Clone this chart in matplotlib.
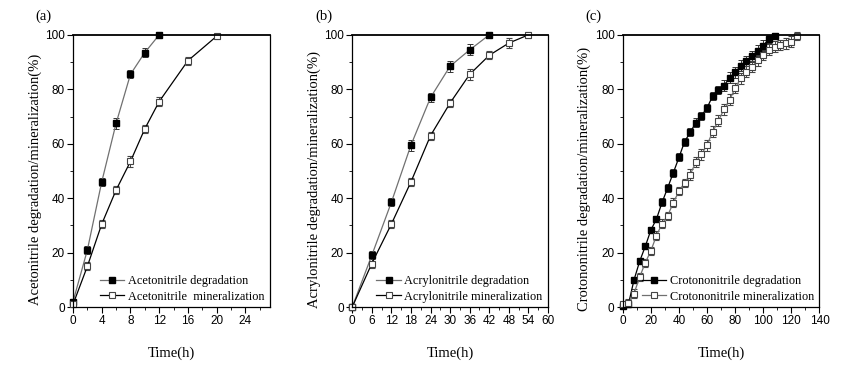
import numpy as np
import matplotlib
matplotlib.use("Agg")
import matplotlib.pyplot as plt
from matplotlib.ticker import MultipleLocator
from matplotlib.lines import Line2D

# panel (a) acetonitrile
t_a_deg = [0, 2, 4, 6, 8, 10, 12]
a_deg = [2, 21, 46, 67.5, 85.5, 93.5, 100]
a_deg_err = [1, 1.5, 1.5, 2, 1.5, 1.5, 1]
t_a_min = [0, 2, 4, 6, 8, 10, 12, 16, 20]
a_min = [1, 15, 30.5, 43, 53.5, 65.5, 75.5, 90.5, 99.5]
a_min_err = [1, 1.5, 1.5, 1.5, 2, 1.5, 1.5, 1.5, 1]

# panel (b) acrylonitrile
t_b_deg = [0, 6, 12, 18, 24, 30, 36, 42]
b_deg = [0, 19, 38.5, 59.5, 77, 88.5, 94.5, 100]
b_deg_err = [0.5, 1.5, 1.5, 2, 1.5, 2, 2, 1]
t_b_min = [0, 6, 12, 18, 24, 30, 36, 42, 48, 54]
b_min = [0, 16, 30.5, 46, 63, 75, 85.5, 92.5, 97, 100]
b_min_err = [0.5, 1.5, 1.5, 1.5, 1.5, 1.5, 2, 1.5, 2, 1]

# panel (c) crotononitrile
t_c_deg = [0, 4, 8, 12, 16, 20, 24, 28, 32, 36, 40, 44, 48, 52, 56, 60, 64,
           68, 72, 76, 80, 84, 88, 92, 96, 100, 104, 108]
c_deg = [0.5, 1, 10, 16.8, 22.3, 28.3, 32.4, 38.5, 43.9, 49.4, 55, 60.8, 64.2,
         67.8, 70.3, 73.2, 77.6, 79.8, 81.3, 84.3, 86.2, 88.6, 90.4, 92.2,
         94.2, 96, 98.6, 99.7]
c_deg_err = [0.5, 0.5, 1, 1, 1, 1, 1, 1.5, 1.5, 1.5, 1.5, 1.5, 1.5, 1.5,
             1.5, 1.5, 1.5, 1.5, 2, 2, 2, 2, 2, 2, 2, 2, 1.5, 1]
t_c_min = [0, 4, 8, 12, 16, 20, 24, 28, 32, 36, 40, 44, 48, 52, 56, 60, 64,
           68, 72, 76, 80, 84, 88, 92, 96, 100, 104, 108, 112, 116, 120, 124]
c_min = [1, 1.5, 5, 11, 16.3, 20.7, 26.3, 30.7, 33.6, 38.4, 42.6, 45.7,
         48.7, 53.3, 56.2, 59.5, 64.5, 68.4, 72.6, 76.1, 80.5, 84, 86.5,
         88.3, 90.6, 92.6, 94.5, 95.6, 96.3, 96.9, 97.5, 99.5]
c_min_err = [1, 1.5, 1.5, 1.5, 1.5, 1.5, 1.5, 1.5, 1.5, 1.5, 1.5, 1.5, 2, 2,
             2, 2, 2, 2, 2, 2, 2, 2, 2, 2, 2, 2, 2, 2, 2, 2, 2, 1.5]

GRAY = '#707070'
serif = 'Liberation Serif'
plt.rcParams['font.family'] = 'Liberation Sans'

fig = plt.figure(figsize=(8.59, 3.75), dpi=100)

panels = [
    dict(rect=[0.085, 0.181, 0.229, 0.726], label='(a)', name='Acetonitrile',
         deg=(t_a_deg, a_deg, a_deg_err), mnr=(t_a_min, a_min, a_min_err),
         xlim=27.4, xmaj=4, deg_col=GRAY, min_col='black',
         leg_names=('Acetonitrile degradation', 'Acetonitrile  mineralization')),
    dict(rect=[0.410, 0.181, 0.228, 0.726], label='(b)', name='Acrylonitrile',
         deg=(t_b_deg, b_deg, b_deg_err), mnr=(t_b_min, b_min, b_min_err),
         xlim=60, xmaj=6, deg_col=GRAY, min_col='black',
         leg_names=('Acrylonitrile degradation', 'Acrylonitrile mineralization')),
    dict(rect=[0.725, 0.181, 0.229, 0.726], label='(c)', name='Crotononitrile',
         deg=(t_c_deg, c_deg, c_deg_err), mnr=(t_c_min, c_min, c_min_err),
         xlim=140, xmaj=20, deg_col='black', min_col=GRAY,
         leg_names=('Crotononitrile degradation', 'Crotononitrile mineralization')),
]

for p in panels:
    ax = fig.add_axes(p['rect'])
    t, y, e = p['deg']
    ax.errorbar(t, y, yerr=e, color=p['deg_col'], lw=0.9, marker='s',
                ms=4.3, mfc='black', mec='black', ecolor='#333333',
                elinewidth=0.7, capsize=2, capthick=0.7, clip_on=False)
    t, y, e = p['mnr']
    ax.errorbar(t, y, yerr=e, color=p['min_col'], lw=0.9, marker='s',
                ms=4.3, mfc='white', mec='#444444', mew=0.8, ecolor='#444444',
                elinewidth=0.7, capsize=2, capthick=0.7, clip_on=False)
    ax.set_xlim(0, p['xlim'])
    ax.set_ylim(0, 100)
    ax.xaxis.set_major_locator(MultipleLocator(p['xmaj']))
    ax.xaxis.set_minor_locator(MultipleLocator(p['xmaj'] / 2))
    ax.yaxis.set_major_locator(MultipleLocator(20))
    ax.yaxis.set_minor_locator(MultipleLocator(10))
    ax.tick_params(which='major', direction='out', length=4, width=0.8,
                   labelsize=8.5, pad=2)
    ax.tick_params(which='minor', direction='out', length=2, width=0.6)
    for s in ax.spines.values():
        s.set_linewidth(0.9)
    ax.spines['top'].set_linewidth(1.3)
    ax.set_xlabel('Time(h)', fontfamily=serif, fontsize=10.5, labelpad=14)
    ax.set_ylabel(p['name'] + ' degradation/mineralization(%)',
                  fontfamily=serif, fontsize=10.5, labelpad=1)
    ax.yaxis.set_label_coords(-0.16, 0.47)
    ax.text(-0.19, 1.07, p['label'], transform=ax.transAxes,
            fontfamily=serif, fontsize=10.5, ha='left', va='center')
    hd = Line2D([], [], color=p['deg_col'], lw=0.9, marker='s', ms=4.3,
                mfc='black', mec='black')
    hm = Line2D([], [], color=p['min_col'], lw=0.9, marker='s', ms=4.3,
                mfc='white', mec='#444444', mew=0.8)
    ax.legend([hd, hm], p['leg_names'], loc='lower right',
              bbox_to_anchor=(1.01, -0.01), frameon=False,
              prop={'family': serif, 'size': 8.8}, handlelength=2.0,
              handletextpad=0.3, labelspacing=0.3, borderaxespad=0.2)

fig.savefig('out.png', dpi=100)
